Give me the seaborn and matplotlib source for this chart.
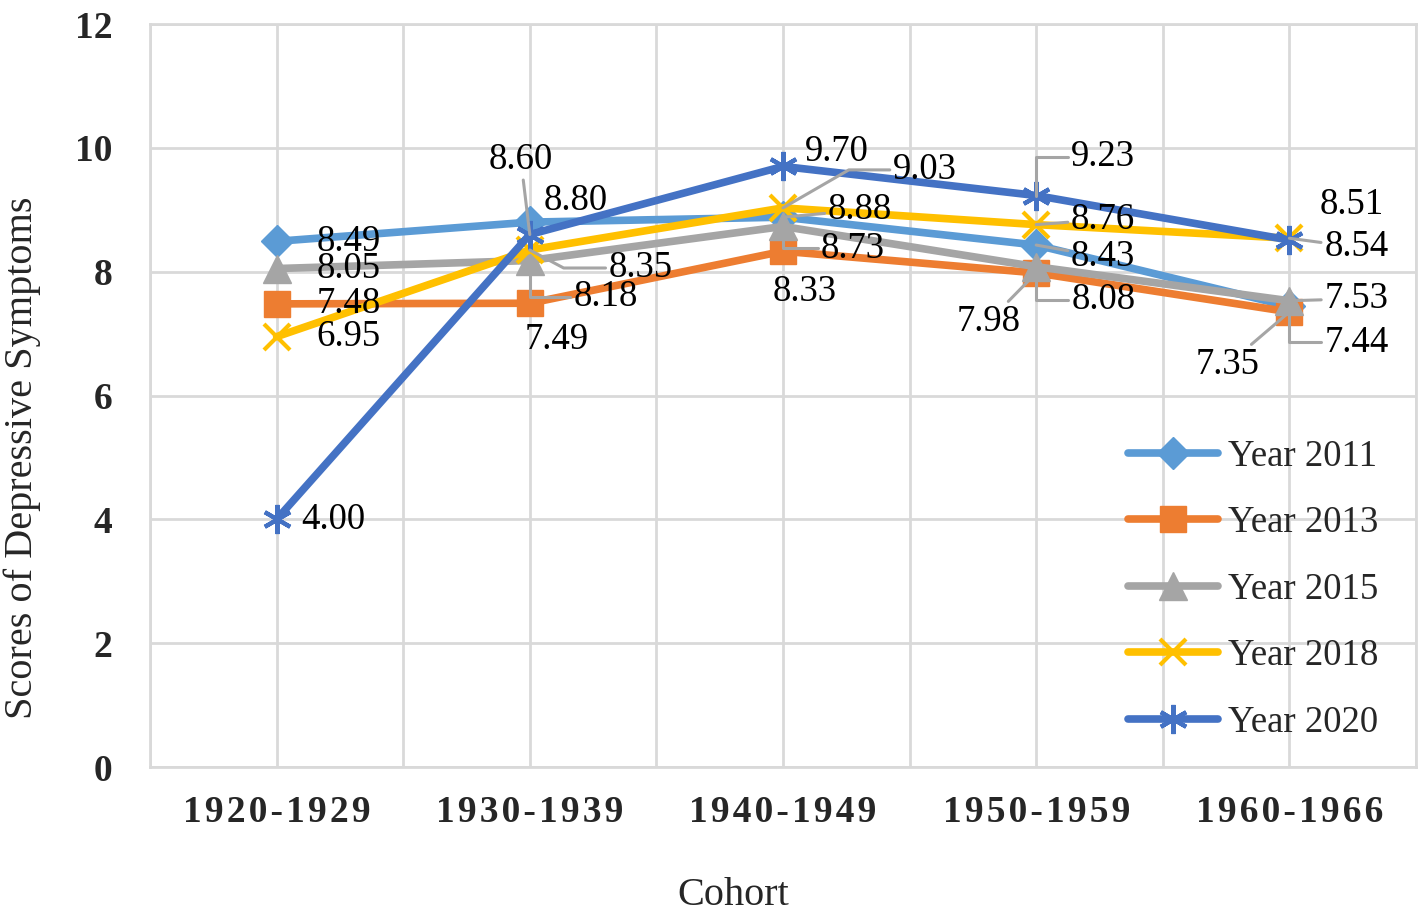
import matplotlib
matplotlib.use("Agg")
import matplotlib.pyplot as plt
import pandas as pd
import seaborn as sns

# chart values
cohorts = ["1920-1929", "1930-1939", "1940-1949", "1950-1959", "1960-1966"]
years = ["Year 2011", "Year 2013", "Year 2015", "Year 2018", "Year 2020"]
y2011 = [8.49, 8.80, 8.88, 8.43, 7.44]
y2013 = [7.48, 7.49, 8.33, 7.98, 7.35]
y2015 = [8.05, 8.18, 8.73, 8.08, 7.53]
y2018 = [6.95, 8.35, 9.03, 8.76, 8.54]
y2020 = [4.00, 8.60, 9.70, 9.23, 8.51]
series = [y2011, y2013, y2015, y2018, y2020]

colors = ["#5B9BD5", "#ED7D31", "#A5A5A5", "#FFC000", "#4472C4"]
markers = ["D", "s", "^", "x", (6, 2, 0)]
msizes = [16, 19, 20, 19, 21]

# label offsets in pixels (dx right, dy down) and leader style
label_pos = [
    [(72, 0, None), (46, -21, None), (77, -7, "s"), (67, 12, "s"), (67, 36, "el")],
    [(72, 0, None), (27, 37, None), (22, 41, None), (-48, 49, "s"), (-62, 53, "s")],
    [(72, 0, None), (76, 36, "el"), (70, 22, "el"), (67, 33, "el"), (67, -2, "s")],
    [(72, 0, None), (111, 18, -28), (142, -38, 30), (67, -5, "s"), (67, 9, "s")],
    [(57, 0, None), (-9, -75, "s"), (54, -15, None), (67, -39, "el"), (62, -35, None)],
]

sns.set_style("white")
plt.rcParams["font.family"] = ["Liberation Serif", "DejaVu Serif"]

fig = plt.figure(figsize=(14.21, 9.21), dpi=100)
ax = fig.add_axes([150 / 1421, 1 - 767 / 921, 1266 / 1421, 743 / 921])

for name, vals, c, m, ms in zip(years, series, colors, markers, msizes):
    df = pd.DataFrame({"Cohort": cohorts, "Score": vals})
    mew = 3 if m in ("x", (6, 2, 0)) else 1
    sns.lineplot(data=df, x="Cohort", y="Score", ax=ax, color=c, lw=5.5,
                 marker=m, markersize=ms, markeredgecolor=c, markerfacecolor=c,
                 markeredgewidth=mew, label=name, sort=False)

px = 0.72  # points per pixel
for vals, offs in zip(series, label_pos):
    for i, (v, (dx, dy, st)) in enumerate(zip(vals, offs)):
        kw = {}
        if st == "s":
            kw["arrowprops"] = dict(arrowstyle="-", color="#A5A5A5", lw=2.2,
                                    shrinkA=0, shrinkB=0)
        elif st == "el":
            kw["arrowprops"] = dict(arrowstyle="-", color="#A5A5A5", lw=2.2,
                                    shrinkA=0, shrinkB=0,
                                    connectionstyle="angle,angleA=0,angleB=90,rad=0")
        elif st is not None:
            kw["arrowprops"] = dict(arrowstyle="-", color="#A5A5A5", lw=2.2,
                                    shrinkA=0, shrinkB=0,
                                    connectionstyle=f"angle,angleA=0,angleB={st},rad=0")
        ax.annotate(f"{v:.2f}", xy=(i, v), xytext=(dx * px, -dy * px),
                    textcoords="offset points", ha="center", va="center",
                    fontsize=26.5, color="black", zorder=5, **kw)

ax.set_xlim(-0.5, 4.5)
ax.set_ylim(0, 12)
ax.set_yticks(range(0, 13, 2))
ax.set_xticks(range(len(cohorts)))
ax.set_xticks([k + 0.5 for k in range(-1, 5)], minor=True)
ax.set_xticklabels(["\u200a".join(c) for c in cohorts], fontsize=27, fontweight="bold")
ax.set_yticklabels([str(t) for t in range(0, 13, 2)], fontsize=27, fontweight="bold")
ax.tick_params(axis="both", which="both", length=0)
ax.tick_params(axis="y", pad=27)
ax.tick_params(axis="x", pad=20)
ax.grid(True, which="both", color="#D9D9D9", lw=2)
for s in ax.spines.values():
    s.set_color("#D9D9D9")
    s.set_linewidth(2)
ax.set_axisbelow(True)

ax.set_xlabel("Cohort", fontsize=29)
ax.set_ylabel("Scores of Depressive Symptoms", fontsize=29)
ax.xaxis.set_label_coords((733 - 150) / 1266, -(895 - 767) / 743)
ax.xaxis.label.set_va("center")
ax.yaxis.set_label_coords((22 - 150) / 1266, (767 - 458) / 743)
ax.yaxis.label.set_va("center")

ax.legend(loc="center left", bbox_to_anchor=(0.7725, 0.239), frameon=False,
          fontsize=26.5, handlelength=2.45, handletextpad=0.27, labelspacing=0.87,
          borderpad=0, borderaxespad=0)

fig.savefig("out.png", dpi=100)
